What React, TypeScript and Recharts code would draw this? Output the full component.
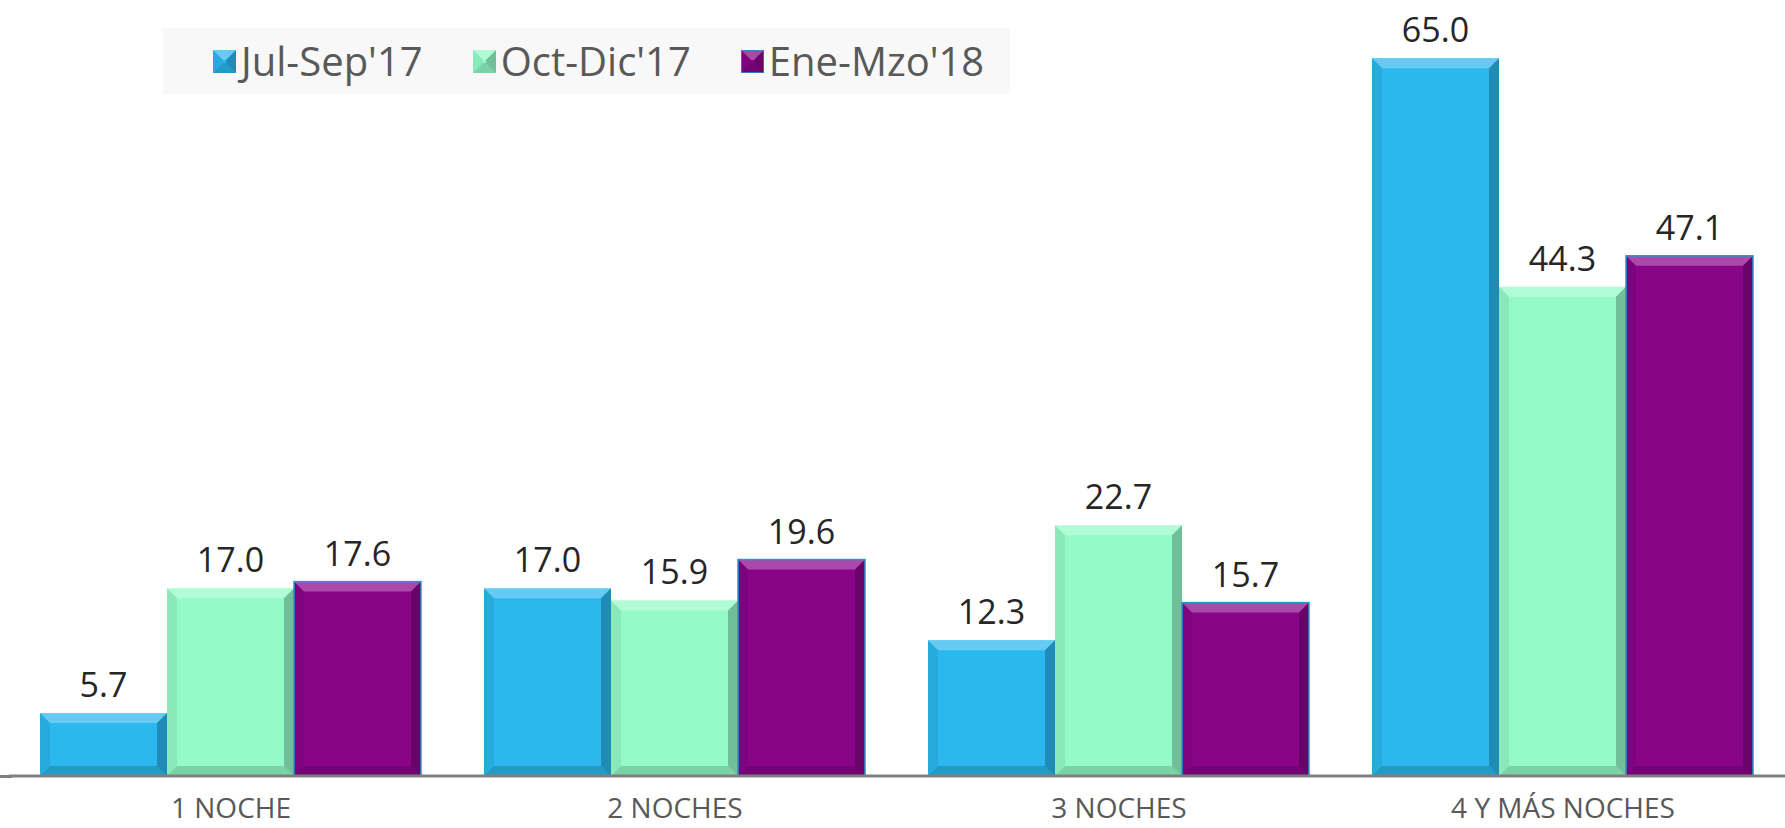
import { Bar, BarChart, LabelList, XAxis, YAxis } from 'recharts';

const categories = ['1 NOCHE', '2 NOCHES', '3 NOCHES', '4 Y MÁS NOCHES'];
const julSep = [5.7, 17.0, 12.3, 65.0];
const octDic = [17.0, 15.9, 22.7, 44.3];
const eneMzo = [17.6, 19.6, 15.7, 47.1];
const seriesNames = ["Jul-Sep'17", "Oct-Dic'17", "Ene-Mzo'18"];

const colors = ['#2bb8ee', '#94fbc8', '#8a0488'];
const FONT = '"Open Sans", sans-serif';

const data = categories.map((name, i) => ({
  name,
  julSep: julSep[i],
  octDic: octDic[i],
  eneMzo: eneMzo[i],
}));

// bar with a bevelled look, like the office 3D style
function BevelBar(props: any) {
  const { x, y, width, height, fill, outline } = props;
  if (!height || height <= 0) return null;
  const b = Math.min(10, height / 2, width / 2);
  const x2 = x + width;
  const y2 = y + height;
  return (
    <g>
      <rect x={x} y={y} width={width} height={height} fill={fill} />
      <polygon
        points={`${x},${y} ${x2},${y} ${x2 - b},${y + b} ${x + b},${y + b}`}
        fill="#ffffff"
        fillOpacity={0.28}
      />
      <polygon
        points={`${x2},${y} ${x2},${y2} ${x2 - b},${y2 - b} ${x2 - b},${y + b}`}
        fill="#000000"
        fillOpacity={0.24}
      />
      <polygon
        points={`${x},${y2} ${x2},${y2} ${x2 - b},${y2 - b} ${x + b},${y2 - b}`}
        fill="#000000"
        fillOpacity={0.16}
      />
      <polygon
        points={`${x},${y} ${x + b},${y + b} ${x + b},${y2 - b} ${x},${y2}`}
        fill="#000000"
        fillOpacity={0.07}
      />
      {outline && (
        <rect x={x} y={y} width={width} height={height} fill="none" stroke={outline} strokeWidth={1.5} />
      )}
    </g>
  );
}

function LegendIcon({ color }: { color: string }) {
  return (
    <svg width={23} height={23} style={{ display: 'block' }}>
      <BevelBar x={0} y={0} width={23} height={23} fill={color} outline={color === colors[2] ? '#1a9ad0' : undefined} />
    </svg>
  );
}

export default function App() {
  const keys = ['julSep', 'octDic', 'eneMzo'];
  return (
    <div style={{ position: 'absolute', left: 0, top: 0, width: 1785, height: 828, background: '#fff' }}>
      {/* axis line runs to the left edge in the original */}
      <div style={{ position: 'absolute', left: 0, top: 775, width: 12, height: 3, background: '#7f7f7f' }} />
      <BarChart
        width={1785}
        height={828}
        data={data}
        margin={{ top: 25, right: 0, left: 9, bottom: 12 }}
        barCategoryGap={31}
        barGap={0}
      >
        <XAxis
          dataKey="name"
          height={40}
          tickLine={false}
          tickMargin={16}
          axisLine={{ stroke: '#7f7f7f', strokeWidth: 3 }}
          tick={{ fill: '#595959', fontSize: 28, fontFamily: FONT }}
          interval={0}
        />
        <YAxis hide domain={[0, 68]} />
        {keys.map((k, i) => (
          <Bar
            key={k}
            dataKey={k}
            name={seriesNames[i]}
            fill={colors[i]}
            isAnimationActive={false}
            shape={(p: any) => <BevelBar {...p} outline={i === 2 ? '#1a9ad0' : undefined} />}
          >
            <LabelList
              dataKey={k}
              position="top"
              offset={16}
              formatter={(v: any) => Number(v).toFixed(1)}
              style={{ fill: '#262626', fontSize: 34, fontFamily: FONT }}
            />
          </Bar>
        ))}
      </BarChart>
      <div
        style={{
          position: 'absolute',
          left: 163,
          top: 28,
          width: 847,
          height: 66,
          background: '#f8f8f8',
          display: 'flex',
          alignItems: 'center',
          fontFamily: FONT,
          fontSize: 40,
          color: '#595959',
        }}
      >
        {seriesNames.map((s, i) => (
          <div key={s} style={{ display: 'flex', alignItems: 'center', marginLeft: 50 }}>
            <LegendIcon color={colors[i]} />
            <span style={{ marginLeft: 5, lineHeight: '66px' }}>{s}</span>
          </div>
        ))}
      </div>
    </div>
  );
}
